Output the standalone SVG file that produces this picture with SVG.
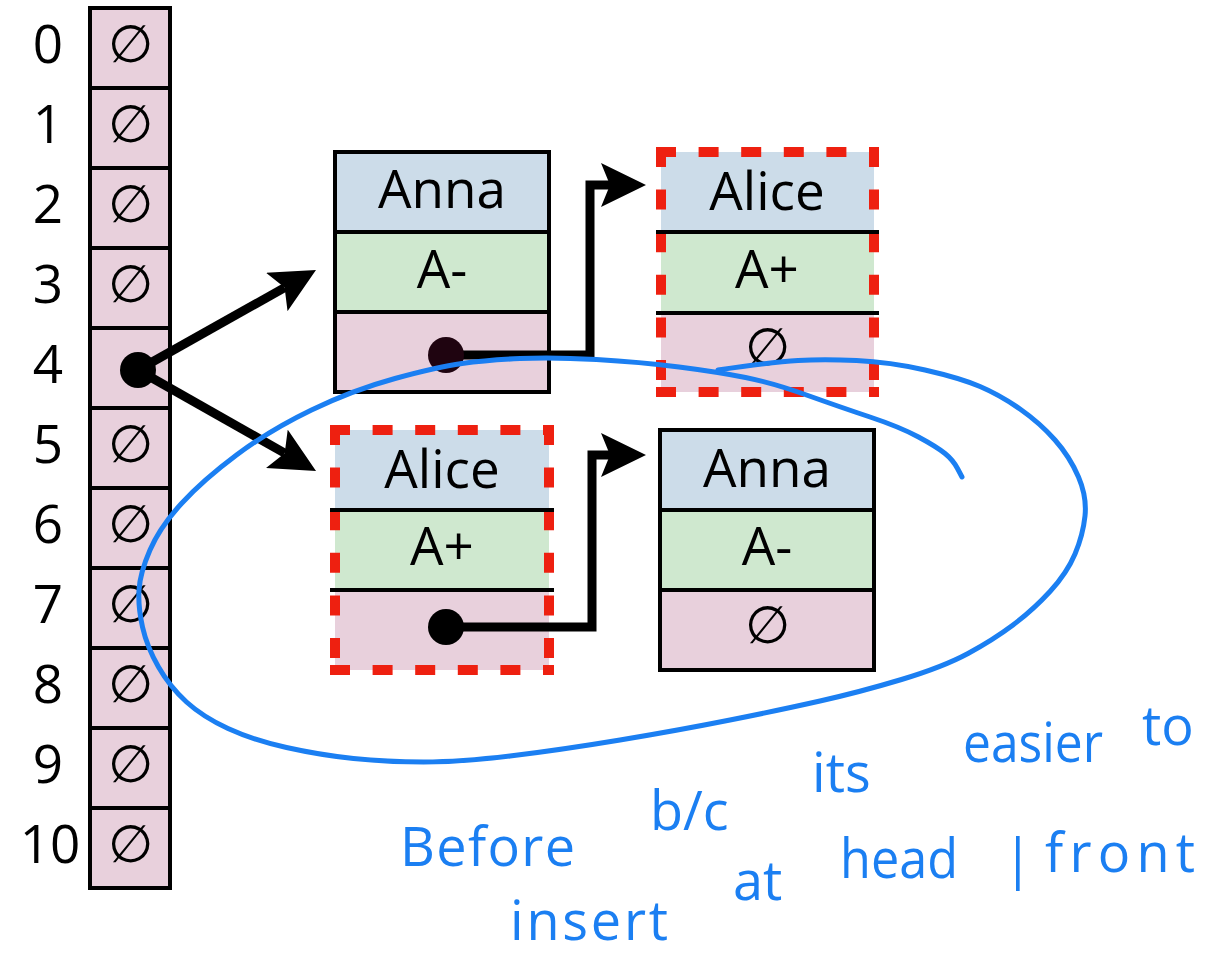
<svg xmlns="http://www.w3.org/2000/svg" width="1210" height="962" viewBox="0 0 1210 962">
  <style>
    .idx, .lbl { font-family: "Open Sans", "Liberation Sans", sans-serif; font-size: 53px; text-anchor: middle; fill: #000; }
    .nil { font-family: "DejaVu Sans", sans-serif; font-size: 52px; font-weight: 200; text-anchor: middle; fill: #000; }
    .cell { fill: #e8d0dc; stroke: #000; stroke-width: 4; }
    .blue { fill: #ccdce9; }
    .green { fill: #cfe8cf; }
    .pink { fill: #e8d0dc; }
    .outline { fill: none; stroke: #000; stroke-width: 4; }
    .rule { stroke: #000; stroke-width: 4; }
    .dash { fill: none; stroke: #ee2010; stroke-width: 10; stroke-dasharray: 10 32.6; stroke-linecap: square; }
    .link { fill: none; stroke: #000; stroke-width: 9; marker-end: url(#arrow); }
    .dot { fill: #000; }
    .ink { fill: none; stroke: #1b7ff2; stroke-width: 5; stroke-linecap: round; stroke-linejoin: round; }
    .hand { font-family: "Open Sans", "Liberation Sans", sans-serif; font-size: 54px; fill: #1b7ff2; }
  </style>
  <defs>
    <marker id="arrow" markerUnits="userSpaceOnUse" viewBox="0 -22 45 44" refX="9" refY="0" markerWidth="45" markerHeight="44" orient="auto">
      <path d="M0,-22 L45,0 L0,22 L9,0 Z" fill="#000"/>
    </marker>
  </defs>

  <!-- bucket array, indices 0..10 -->
  <g id="table">
    <rect class="cell" x="90" y="8" width="80" height="80"/>
    <rect class="cell" x="90" y="88" width="80" height="80"/>
    <rect class="cell" x="90" y="168" width="80" height="80"/>
    <rect class="cell" x="90" y="248" width="80" height="80"/>
    <rect class="cell" x="90" y="328" width="80" height="80"/>
    <rect class="cell" x="90" y="408" width="80" height="80"/>
    <rect class="cell" x="90" y="488" width="80" height="80"/>
    <rect class="cell" x="90" y="568" width="80" height="80"/>
    <rect class="cell" x="90" y="648" width="80" height="80"/>
    <rect class="cell" x="90" y="728" width="80" height="80"/>
    <rect class="cell" x="90" y="808" width="80" height="80"/>
    <text class="idx" x="48" y="63">0</text>
    <text class="idx" x="48" y="143">1</text>
    <text class="idx" x="48" y="223">2</text>
    <text class="idx" x="48" y="303">3</text>
    <text class="idx" x="48" y="383">4</text>
    <text class="idx" x="48" y="463">5</text>
    <text class="idx" x="48" y="543">6</text>
    <text class="idx" x="48" y="623">7</text>
    <text class="idx" x="48" y="703">8</text>
    <text class="idx" x="48" y="783">9</text>
    <text class="idx" x="50" y="863">10</text>
    <text class="nil" x="130" y="62">∅</text>
    <text class="nil" x="130" y="142">∅</text>
    <text class="nil" x="130" y="222">∅</text>
    <text class="nil" x="130" y="302">∅</text>
    <text class="nil" x="130" y="462">∅</text>
    <text class="nil" x="130" y="542">∅</text>
    <text class="nil" x="130" y="622">∅</text>
    <text class="nil" x="130" y="702">∅</text>
    <text class="nil" x="130" y="782">∅</text>
    <text class="nil" x="130" y="862">∅</text>
  </g>

  <!-- list node: Anna (top) -->
  <g id="node-anna-top">
    <rect class="blue" x="335" y="152" width="214" height="80"/>
    <rect class="green" x="335" y="232" width="214" height="80"/>
    <rect class="pink" x="335" y="312" width="214" height="80"/>
    <rect class="outline" x="335" y="152" width="214" height="240"/>
    <line class="rule" x1="335" y1="232" x2="549" y2="232"/>
    <line class="rule" x1="335" y1="312" x2="549" y2="312"/>
    <text class="lbl" x="442" y="208">Anna</text>
    <text class="lbl" x="442" y="288">A-</text>
  </g>

  <!-- list node: Alice (top, new) -->
  <g id="node-alice-top">
    <rect class="blue" x="661" y="152" width="213" height="80"/>
    <rect class="green" x="661" y="232" width="213" height="80"/>
    <rect class="pink" x="661" y="312" width="213" height="80"/>
    <path class="dash" d="M661,152 H874 M874,152 V392 M661,392 H874 M661,152 V392"/>
    <line class="rule" x1="656" y1="232" x2="879" y2="232"/>
    <line class="rule" x1="656" y1="313" x2="879" y2="313"/>
    <text class="lbl" x="767" y="210">Alice</text>
    <text class="lbl" x="767" y="288">A+</text>
    <text class="nil" x="767" y="365">∅</text>
  </g>

  <!-- list node: Alice (bottom, new head) -->
  <g id="node-alice-bottom">
    <rect class="blue" x="335" y="430" width="214" height="80"/>
    <rect class="green" x="335" y="510" width="214" height="80"/>
    <rect class="pink" x="335" y="590" width="214" height="80"/>
    <path class="dash" d="M335,430 H549 M549,430 V670 M335,670 H549 M335,430 V670"/>
    <line class="rule" x1="330" y1="510" x2="554" y2="510"/>
    <line class="rule" x1="330" y1="590" x2="554" y2="590"/>
    <text class="lbl" x="442" y="488">Alice</text>
    <text class="lbl" x="442" y="565">A+</text>
  </g>

  <!-- list node: Anna (bottom) -->
  <g id="node-anna-bottom">
    <rect class="blue" x="660" y="430" width="214" height="80"/>
    <rect class="green" x="660" y="510" width="214" height="80"/>
    <rect class="pink" x="660" y="590" width="214" height="80"/>
    <rect class="outline" x="660" y="430" width="214" height="240"/>
    <line class="rule" x1="660" y1="510" x2="874" y2="510"/>
    <line class="rule" x1="660" y1="590" x2="874" y2="590"/>
    <text class="lbl" x="767" y="487">Anna</text>
    <text class="lbl" x="767" y="565">A-</text>
    <text class="nil" x="767" y="643">∅</text>
  </g>

  <!-- pointers -->
  <g id="connectors">
    <path class="link" d="M138,370 L284.6,287.6"/>
    <path class="link" d="M138,370 L284.7,453.2"/>
    <path class="link" d="M446,355 H590 V185 H610"/>
    <path class="link" d="M446,627 H592 V455 H610"/>
    <circle class="dot" cx="138" cy="370" r="18"/>
    <circle class="dot" cx="446" cy="355" r="18" style="fill:#1f0410"/>
    <circle class="dot" cx="446" cy="627" r="18"/>
  </g>

  <!-- pen annotation -->
  <g id="annotation">
    <path class="ink" d="M718,370 Q773,362 798,360.5 Q823,359 856.5,360.5 Q890,362 925,370 Q960,378 980,386.5 Q1000,395 1020,409 Q1040,423 1055,440 Q1070,457 1078.5,477 Q1087,497 1085,516 Q1083,535 1075,554 Q1067,573 1050,591.5 Q1033,610 1013,625 Q993,640 968,653.5 Q943,667 901.5,679.5 Q860,692 820,701 Q780,710 730,720 Q680,730 620,740 Q560,750 510,756 Q460,762 423.5,762 Q387,762 353.5,758.5 Q320,755 286.5,747.5 Q253,740 228,728.5 Q203,717 186.5,702 Q170,687 158.5,667 Q147,647 142.5,627 Q138,607 139,590 Q140,573 150,550 Q160,527 181.5,503.5 Q203,480 236.5,455 Q270,430 311.5,410 Q353,390 395,378.5 Q437,367 462,363.5 Q487,360 520,358.5 Q553,357 596.5,359.5 Q640,362 679,367 Q718,372 745.5,377.5 Q773,383 806.5,395 Q840,407 870,417 Q900,427 918.5,437 Q937,447 945,453.5 Q953,460 957.5,468.5 L962,477"/>
    <text class="hand" x="400" y="866" textLength="175" lengthAdjust="spacing">Before</text>
    <text class="hand" x="650" y="830">b/c</text>
    <text class="hand" x="812" y="792">its</text>
    <text class="hand" x="963" y="762" textLength="140" lengthAdjust="spacingAndGlyphs">easier</text>
    <text class="hand" x="1142" y="745">to</text>
    <text class="hand" x="510" y="940" textLength="158" lengthAdjust="spacing">insert</text>
    <text class="hand" x="733" y="900">at</text>
    <text class="hand" x="840" y="878" textLength="118" lengthAdjust="spacingAndGlyphs">head</text>
    <text class="hand" x="1003" y="878">|</text>
    <text class="hand" x="1045" y="872" textLength="150" lengthAdjust="spacing">front</text>
  </g>
</svg>
